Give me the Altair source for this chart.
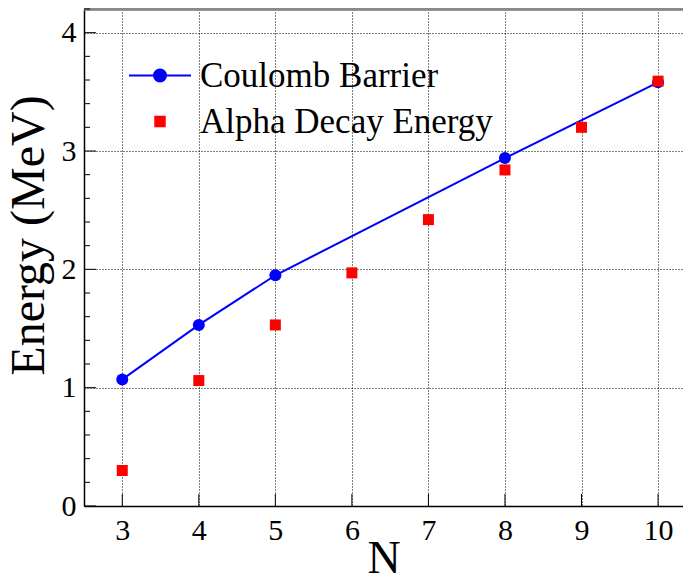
import altair as alt
import pandas as pd

# ---- data ----
n_alpha = [3, 4, 5, 6, 7, 8, 9, 10]
alpha_energy = [0.30, 1.06, 1.53, 1.97, 2.42, 2.84, 3.20, 3.59]
n_coulomb = [3, 4, 5, 8, 10]
coulomb_barrier = [1.07, 1.53, 1.95, 2.94, 3.58]

x_ticks = [3, 4, 5, 6, 7, 8, 9, 10]
y_ticks = [0, 1, 2, 3, 4]
y_minor = [0.2, 0.4, 0.6, 0.8, 1.2, 1.4, 1.6, 1.8, 2.2, 2.4, 2.6, 2.8,
           3.2, 3.4, 3.6, 3.8, 4.2]

series_names = ["Coulomb Barrier", "Alpha Decay Energy"]
series_colors = ["#0000ff", "#ff0000"]

FONT = "Liberation Serif"
W, H = 599, 497

df_alpha = pd.DataFrame({"N": n_alpha, "E": alpha_energy})
df_cb = pd.DataFrame({"N": n_coulomb, "E": coulomb_barrier})
df_xt = pd.DataFrame({"N": x_ticks})
df_yt = pd.DataFrame({"E": y_ticks})
df_ym = pd.DataFrame({"E": y_minor})
df_leg = pd.DataFrame({"series": series_names, "N": [3, 3], "E": [0, 0]})

xs = alt.Scale(domain=[2.5, 10.326], nice=False, zero=False)
ys = alt.Scale(domain=[0, 4.2], nice=False)

x_axis = alt.Axis(values=x_ticks, title="N", grid=True, ticks=False,
                  gridDash=[1, 2], gridColor="#000000", gridWidth=1,
                  domainColor="#000000", domainWidth=1.5,
                  labelFont=FONT, labelFontSize=30, labelColor="#000000",
                  labelPadding=9, labelFlush=False,
                  titleFont=FONT, titleFontSize=46, titleFontWeight="normal",
                  titleColor="#000000", titleBaseline="alphabetic", titleY=66)
y_axis = alt.Axis(values=y_ticks, title="Energy (MeV)", grid=True, ticks=False,
                  gridDash=[1, 2], gridColor="#000000", gridWidth=1,
                  domainColor="#000000", domainWidth=1.5,
                  labelFont=FONT, labelFontSize=30, labelColor="#000000",
                  labelPadding=8, labelFlush=False,
                  titleFont=FONT, titleFontSize=48, titleFontWeight="normal",
                  titleColor="#000000", titleBaseline="middle",
                  titleX=-55, titleY=226)

X = alt.X("N:Q", scale=xs, axis=x_axis)
Y = alt.Y("E:Q", scale=ys, axis=y_axis)

line = alt.Chart(df_cb).mark_line(color="#0000ff", strokeWidth=2).encode(x=X, y=Y)
circles = alt.Chart(df_cb).mark_point(filled=True, color="#0000ff", size=144, opacity=1).encode(x=X, y=Y)
squares = alt.Chart(df_alpha).mark_square(color="#ff0000", size=121, opacity=1).encode(x=X, y=Y)

# inward ticks
ymaj = alt.Chart(df_yt).mark_rule(color="#000000", strokeWidth=1).encode(
    y=Y, x=alt.value(0), x2=alt.value(12))
ymin = alt.Chart(df_ym).mark_rule(color="#000000", strokeWidth=1).encode(
    y=Y, x=alt.value(0), x2=alt.value(6))
xmaj = alt.Chart(df_xt).mark_rule(color="#000000", strokeWidth=1).encode(
    x=X, y=alt.value(H), y2=alt.value(H - 12))
top_border = alt.Chart(df_xt).mark_rule(color="#8a8a8a", strokeWidth=2.5).encode(
    x=alt.value(0), x2=alt.value(W), y=alt.value(0))

# legend-only layer
cb_path = "M-1.378,0L1.378,0M-0.267,0A0.267,0.267,0,1,1,0.267,0A0.267,0.267,0,1,1,-0.267,0Z"
sq_path = "M-0.21,-0.21L0.21,-0.21L0.21,0.21L-0.21,0.21Z"
leg_kw = dict(orient="none", legendX=52.5, legendY=43, title=None,
              labelFont=FONT, labelFontSize=35, labelColor="#000000",
              symbolSize=2025, symbolStrokeWidth=2, symbolOpacity=1, padding=0,
              rowPadding=4, labelOffset=16.5, labelLimit=500)
legend_layer = alt.Chart(df_leg).transform_filter("false").mark_point(
    filled=True, strokeWidth=2, opacity=1).encode(
    x=X, y=Y,
    fill=alt.Fill("series:N", scale=alt.Scale(domain=series_names, range=series_colors),
                  legend=alt.Legend(**leg_kw)),
    stroke=alt.Stroke("series:N", scale=alt.Scale(domain=series_names, range=series_colors),
                      legend=alt.Legend(**leg_kw)),
    shape=alt.Shape("series:N", scale=alt.Scale(domain=series_names, range=[cb_path, sq_path]),
                    legend=alt.Legend(**leg_kw)),
)

chart = alt.layer(top_border, line, circles, squares, ymaj, ymin, xmaj, legend_layer).properties(
    width=W, height=H,
    autosize=alt.AutoSizeParams(type="none"),
    padding={"left": 76, "top": 1, "right": 0, "bottom": 70},
).configure_view(stroke=None).configure(background="#ffffff")

chart.save("out.html", embed_options={"renderer": "svg", "actions": False})
